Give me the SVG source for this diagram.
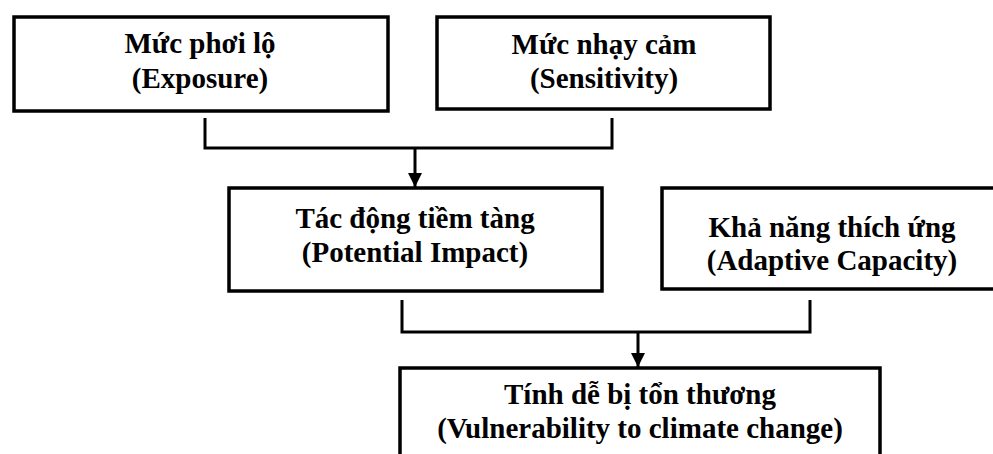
<svg xmlns="http://www.w3.org/2000/svg" width="993" height="454" viewBox="0 0 993 454">
  <style>
    .box { fill: #ffffff; stroke: #000000; stroke-width: 3.5; }
    .wire { fill: none; stroke: #000000; stroke-width: 3; }
  </style>
  <defs>
    <marker id="arrow" viewBox="0 0 14 14" refX="14" refY="7" markerWidth="14" markerHeight="14" markerUnits="userSpaceOnUse" orient="auto">
      <path d="M0,0 L14,7 L0,14 Z" fill="#000000"/>
    </marker>
  </defs>
  <rect width="993" height="454" fill="#ffffff"/>

  <!-- all labels share one serif bold face -->
  <g font-family="Liberation Serif, DejaVu Serif, serif" font-weight="bold" font-size="29" fill="#000000" text-anchor="middle">
    <g id="exposure">
      <rect class="box" x="14" y="17" width="374" height="94"/>
      <text x="200" y="53">Mức phơi lộ</text>
      <text x="200" y="88">(Exposure)</text>
    </g>

    <g id="sensitivity">
      <rect class="box" x="437" y="17" width="333" height="92"/>
      <text x="604" y="54">Mức nhạy cảm</text>
      <text x="604" y="88">(Sensitivity)</text>
    </g>

    <g id="potential-impact">
      <rect class="box" x="229" y="188" width="373" height="103"/>
      <text x="415" y="228">Tác động tiềm tàng</text>
      <text x="415" y="262">(Potential Impact)</text>
    </g>

    <g id="adaptive-capacity">
      <rect class="box" x="662" y="188" width="340" height="101"/>
      <text x="832" y="237">Khả năng thích ứng</text>
      <text x="832" y="270">(Adaptive Capacity)</text>
    </g>

    <g id="vulnerability">
      <rect class="box" x="400" y="368" width="480" height="100"/>
      <text x="640" y="404">Tính dễ bị tổn thương</text>
      <text x="640" y="438">(Vulnerability to climate change)</text>
    </g>
  </g>

  <g id="connectors">
    <path class="wire" d="M205,118 V148 H612 V118"/>
    <path class="wire" d="M415,148 V187" marker-end="url(#arrow)"/>
    <path class="wire" d="M402,300 V332 H810 V300"/>
    <path class="wire" d="M638,332 V367" marker-end="url(#arrow)"/>
  </g>
</svg>
